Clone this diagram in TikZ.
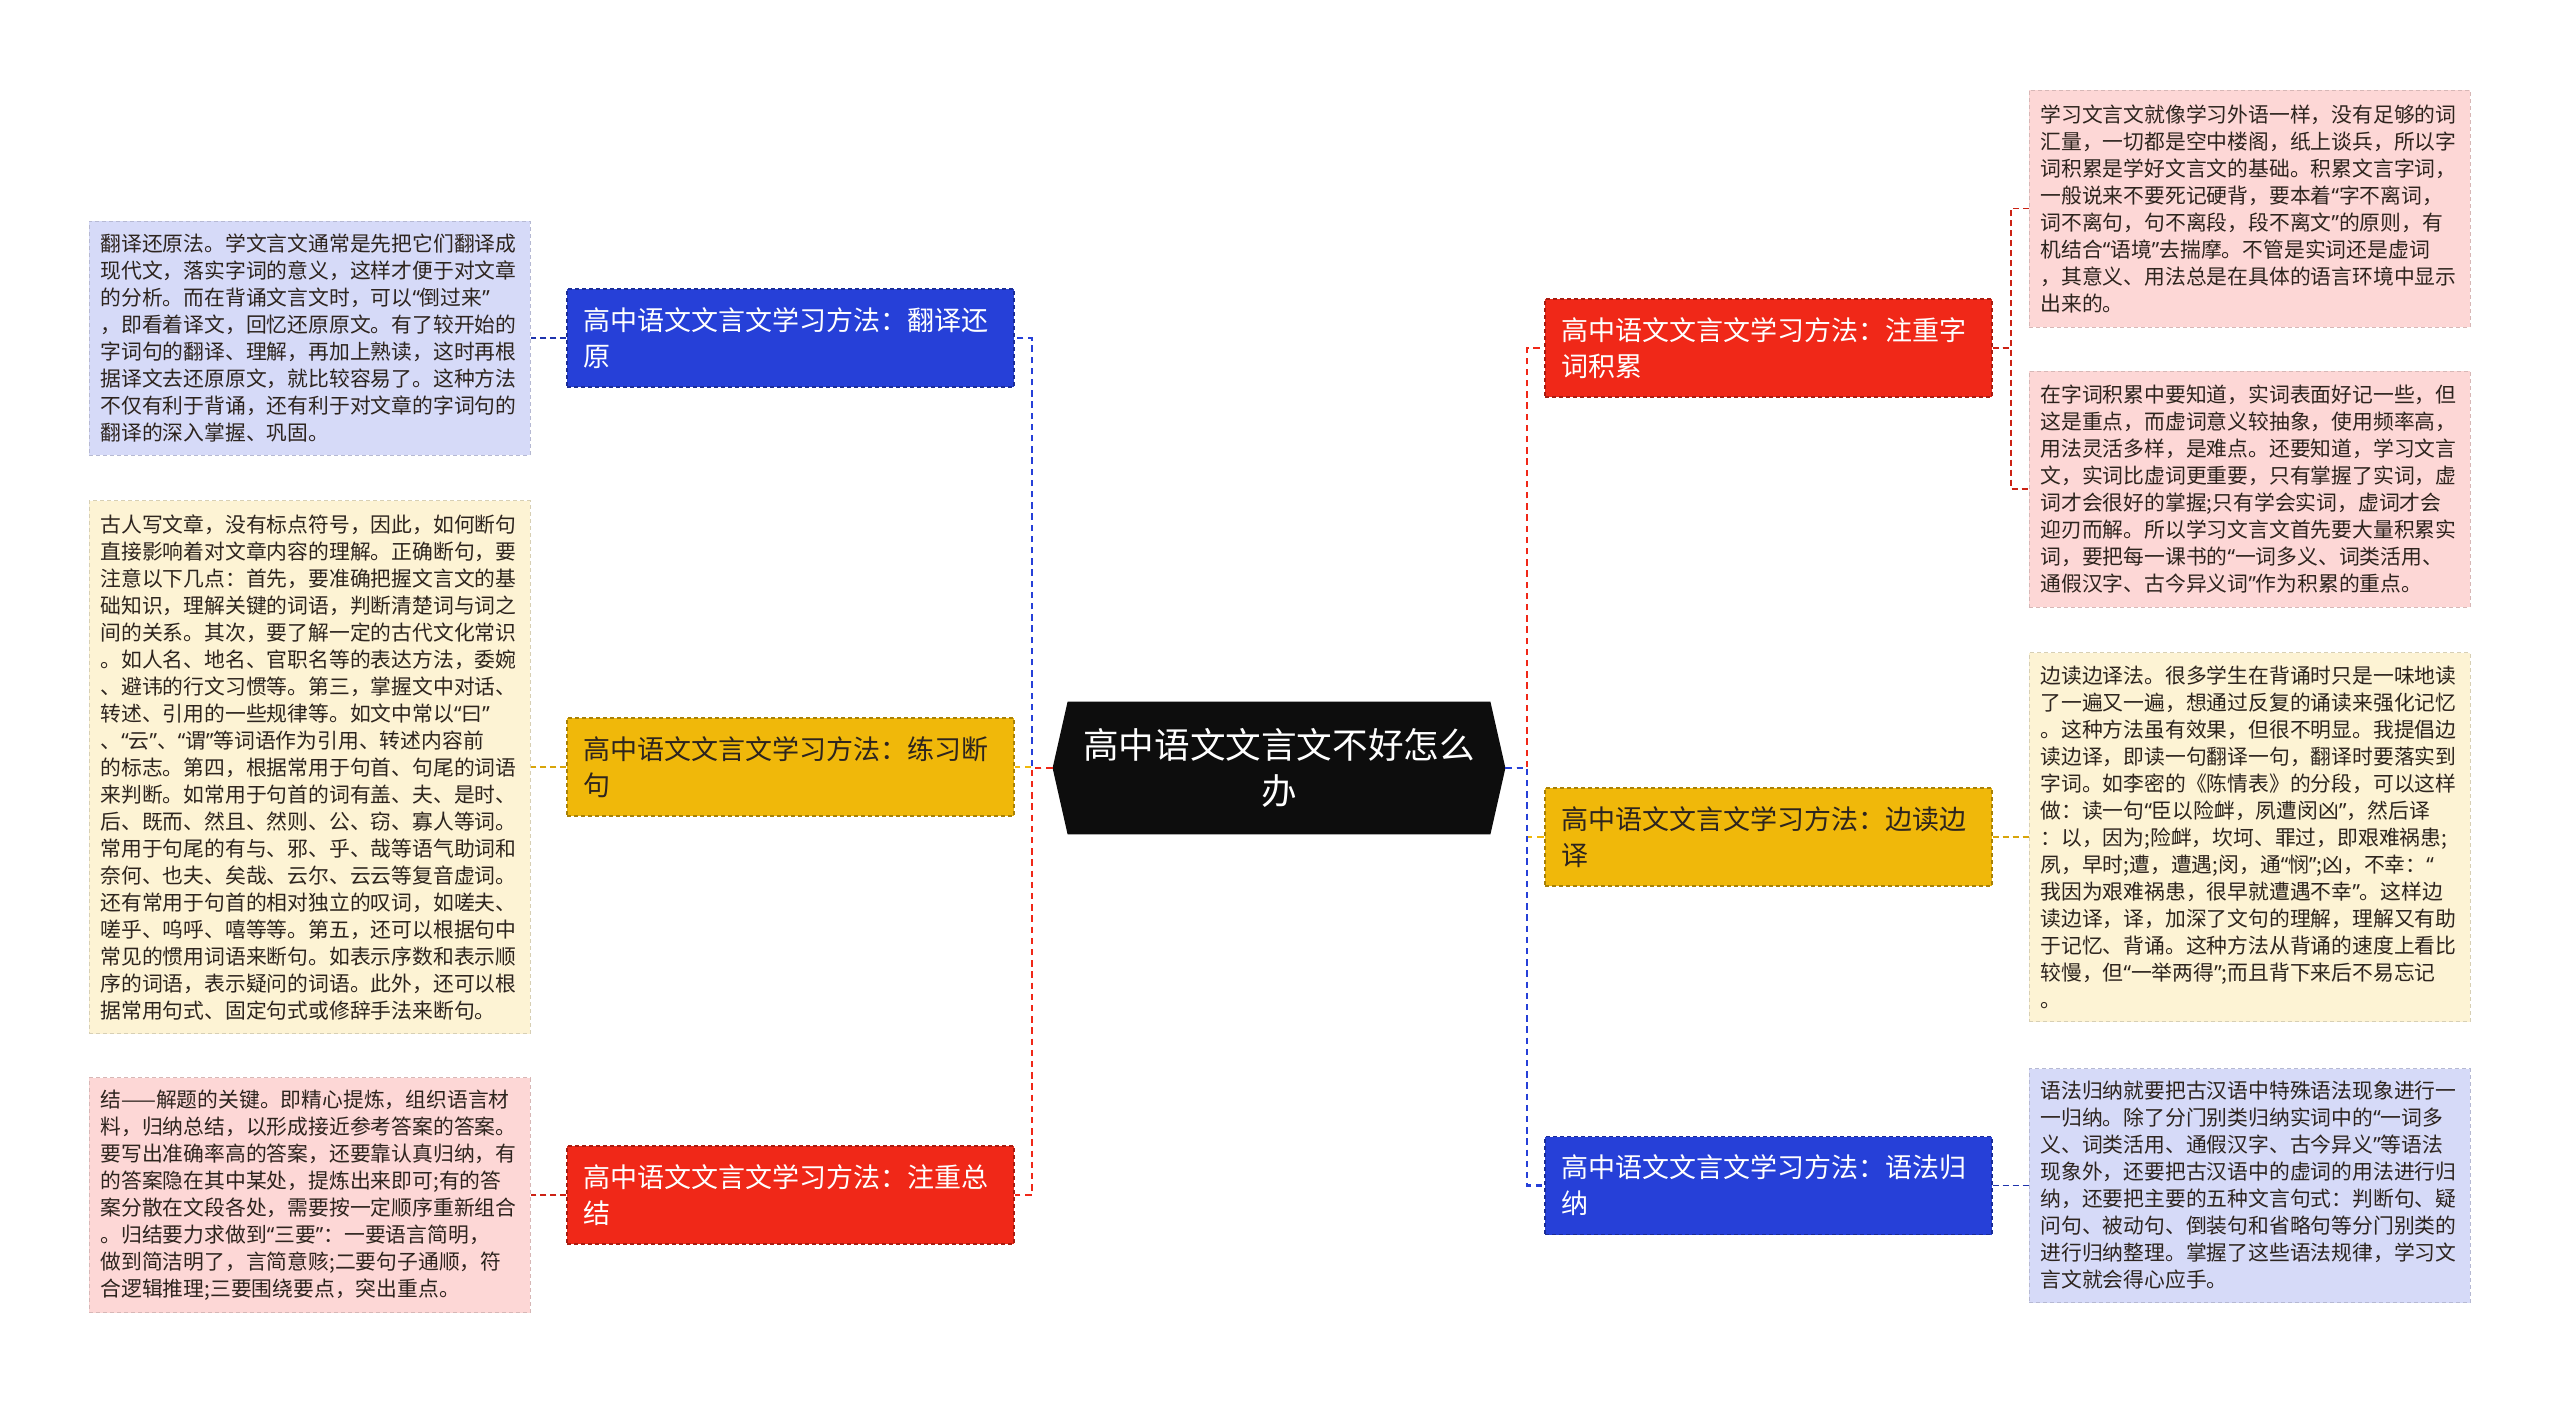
\documentclass[tikz,border=0pt]{standalone}
\usepackage{fontspec}
\setmainfont{Noto Sans CJK SC}
\newfontfamily\quotefont{Noto Sans}
\usetikzlibrary{calc, backgrounds}

\definecolor{topicblue}{RGB}{38,64,216}
\definecolor{topicred}{RGB}{240,40,24}
\definecolor{topicyellow}{RGB}{240,184,10}
\definecolor{noteblue}{RGB}{214,218,248}
\definecolor{noteyellow}{RGB}{253,243,212}
\definecolor{notered}{RGB}{253,215,214}
\definecolor{inkdark}{RGB}{45,36,30}

% narrow quote marks, as in the picture
\newcommand{\oq}{{\quotefont\char"201C}}
\newcommand{\cq}{{\quotefont\char"201D}}

\begin{document}
\begin{tikzpicture}[x=0.5pt, y=-0.5pt,
	topic/.style={rectangle, fill=#1, draw=#1!70!black, dash pattern=on 2pt off 1.5pt,
		line width=0.6pt, text width=207.5pt, minimum height=49pt, inner xsep=8pt,
		inner ysep=0pt, align=left, text=white, font=\fontsize{13.5pt}{18pt}\selectfont},
	note/.style={rectangle, fill=#1, draw=#1!85!black, dash pattern=on 2pt off 1.5pt,
		line width=0.5pt, text width=209pt, inner xsep=5.75pt, inner ysep=0pt,
		align=left, text=inkdark, font=\fontsize{10.4pt}{13.5pt}\selectfont},
	link/.style={line width=1.2pt, dash pattern=on 3.2pt off 2.4pt},
	twig/.style={line width=0.7pt, dash pattern=on 3pt off 2pt}]
	
	% 1. Page and the central hexagon
	\useasboundingbox (0,0) rectangle (2560,1404);
	
	\node[rectangle, minimum width=211pt, minimum height=66pt, inner sep=0pt,
	text=white, align=center, font=\fontsize{17.8pt}{23pt}\selectfont]
	(root) at (1279,768) {高中语文文言文不好怎么\\办};
	\coordinate (rootL) at ($(root.west)+(-15,0)$);
	\coordinate (rootR) at ($(root.east)+(15,0)$);
	\begin{scope}[on background layer]
		\fill[white] (0,0) rectangle (2560,1404);
		\fill[black!95] (root.north west) -- (root.north east) -- (rootR)
		-- (root.south east) -- (root.south west) -- (rootL) -- cycle;
	\end{scope}
	
	% 2. Branch topics
	\node[topic=topicblue] (fanyi) at (790.5,338) {高中语文文言文学习方法：翻译还\\原};
	\node[topic=topicyellow, text=inkdark] (duanju) at (790.5,767) {高中语文文言文学习方法：练习断\\句};
	\node[topic=topicred] (zongjie) at (790.5,1195) {高中语文文言文学习方法：注重总\\结};
	\node[topic=topicred] (jilei) at (1768.5,348) {高中语文文言文学习方法：注重字\\词积累};
	\node[topic=topicyellow, text=inkdark] (bianyi) at (1768.5,837) {高中语文文言文学习方法：边读边\\译};
	\node[topic=topicblue] (guina) at (1768.5,1185.5) {高中语文文言文学习方法：语法归\\纳};
	
	% 3. Notes on the left
	\node[note=noteblue, minimum height=117pt] (fanyiNote) at (309.5,338) {%
		翻译还原法。学文言文通常是先把它们翻译成\\
		现代文，落实字词的意义，这样才便于对文章\\
		的分析。而在背诵文言文时，可以\oq{}倒过来\cq{}\\
		，即看着译文，回忆还原原文。有了较开始的\\
		字词句的翻译、理解，再加上熟读，这时再根\\
		据译文去还原原文，就比较容易了。这种方法\\
		不仅有利于背诵，还有利于对文章的字词句的\\
		翻译的深入掌握、巩固。};
	\node[note=noteyellow, minimum height=266.5pt] (duanjuNote) at (309.5,767) {%
		古人写文章，没有标点符号，因此，如何断句\\
		直接影响着对文章内容的理解。正确断句，要\\
		注意以下几点：首先，要准确把握文言文的基\\
		础知识，理解关键的词语，判断清楚词与词之\\
		间的关系。其次，要了解一定的古代文化常识\\
		。如人名、地名、官职名等的表达方法，委婉\\
		、避讳的行文习惯等。第三，掌握文中对话、\\
		转述、引用的一些规律等。如文中常以\oq{}曰\cq{}\\
		、\oq{}云\cq{}、\oq{}谓\cq{}等词语作为引用、转述内容前\\
		的标志。第四，根据常用于句首、句尾的词语\\
		来判断。如常用于句首的词有盖、夫、是时、\\
		后、既而、然且、然则、公、窃、寡人等词。\\
		常用于句尾的有与、邪、乎、哉等语气助词和\\
		奈何、也夫、矣哉、云尔、云云等复音虚词。\\
		还有常用于句首的相对独立的叹词，如嗟夫、\\
		嗟乎、呜呼、嘻等等。第五，还可以根据句中\\
		常见的惯用词语来断句。如表示序数和表示顺\\
		序的词语，表示疑问的词语。此外，还可以根\\
		据常用句式、固定句式或修辞手法来断句。};
	\node[note=notered, minimum height=117.5pt] (zongjieNote) at (309.5,1195) {%
		结——解题的关键。即精心提炼，组织语言材\\
		料，归纳总结，以形成接近参考答案的答案。\\
		要写出准确率高的答案，还要靠认真归纳，有\\
		的答案隐在其中某处，提炼出来即可;有的答\\
		案分散在文段各处，需要按一定顺序重新组合\\
		。归结要力求做到\oq{}三要\cq{}：一要语言简明，\\
		做到简洁明了，言简意赅;二要句子通顺，符\\
		合逻辑推理;三要围绕要点，突出重点。};
	
	% 4. Notes on the right
	\node[note=notered, minimum height=118.5pt] (jileiNoteA) at (2249.5,208.5) {%
		学习文言文就像学习外语一样，没有足够的词\\
		汇量，一切都是空中楼阁，纸上谈兵，所以字\\
		词积累是学好文言文的基础。积累文言字词，\\
		一般说来不要死记硬背，要本着\oq{}字不离词，\\
		词不离句，句不离段，段不离文\cq{}的原则，有\\
		机结合\oq{}语境\cq{}去揣摩。不管是实词还是虚词\\
		，其意义、用法总是在具体的语言环境中显示\\
		出来的。};
	\node[note=notered, minimum height=118pt] (jileiNoteB) at (2249.5,489) {%
		在字词积累中要知道，实词表面好记一些，但\\
		这是重点，而虚词意义较抽象，使用频率高，\\
		用法灵活多样，是难点。还要知道，学习文言\\
		文，实词比虚词更重要，只有掌握了实词，虚\\
		词才会很好的掌握;只有学会实词，虚词才会\\
		迎刃而解。所以学习文言文首先要大量积累实\\
		词，要把每一课书的\oq{}一词多义、词类活用、\\
		通假汉字、古今异义词\cq{}作为积累的重点。};
	\node[note=noteyellow, minimum height=184.5pt] (bianyiNote) at (2249.5,837) {%
		边读边译法。很多学生在背诵时只是一味地读\\
		了一遍又一遍，想通过反复的诵读来强化记忆\\
		。这种方法虽有效果，但很不明显。我提倡边\\
		读边译，即读一句翻译一句，翻译时要落实到\\
		字词。如李密的《陈情表》的分段，可以这样\\
		做：读一句\oq{}臣以险衅，夙遭闵凶\cq{}，然后译\\
		：以，因为;险衅，坎坷、罪过，即艰难祸患;\\
		夙，早时;遭，遭遇;闵，通\oq{}悯\cq{};凶，不幸：\oq{}\\
		我因为艰难祸患，很早就遭遇不幸\cq{}。这样边\\
		读边译，译，加深了文句的理解，理解又有助\\
		于记忆、背诵。这种方法从背诵的速度上看比\\
		较慢，但\oq{}一举两得\cq{};而且背下来后不易忘记\\
		。};
	\node[note=noteblue, minimum height=117pt] (guinaNote) at (2249.5,1185.5) {%
		语法归纳就要把古汉语中特殊语法现象进行一\\
		一归纳。除了分门别类归纳实词中的\oq{}一词多\\
		义、词类活用、通假汉字、古今异义\cq{}等语法\\
		现象外，还要把古汉语中的虚词的用法进行归\\
		纳，还要把主要的五种文言句式：判断句、疑\\
		问句、被动句、倒装句和省略句等分门别类的\\
		进行归纳整理。掌握了这些语法规律，学习文\\
		言文就会得心应手。};
	
	% 5. Trunk links (the last one drawn shows on the stub)
	\coordinate (hubL) at (1032,768);
	\coordinate (hubR) at (1527,768);
	\draw[link, topicyellow] (rootL) -- (hubL) |- (duanju.east);
	\draw[link, topicblue] (rootL) -- (hubL) |- (fanyi.east);
	\draw[link, topicred] (rootL) -- (hubL) |- (zongjie.east);
	\draw[link, topicyellow] (rootR) -- (hubR) |- (bianyi.west);
	\draw[link, topicred] (rootR) -- (hubR) |- (jilei.west);
	\draw[link, topicblue] (rootR) -- (hubR) |- (guina.west);
	
	% 6. Twigs from topics to their notes
	\coordinate (hubJ) at (2011,348);
	\draw[twig, topicblue!80!black] (fanyi.west) -- (fanyiNote.east);
	\draw[twig, topicyellow!90!black] (duanju.west) -- (duanjuNote.east);
	\draw[twig, topicred!85!black] (zongjie.west) -- (zongjieNote.east);
	\draw[twig, topicred!85!black] (jilei.east) -- (hubJ) |- (jileiNoteA.west);
	\draw[twig, topicred!85!black] (jilei.east) -- (hubJ) |- (jileiNoteB.west);
	\draw[twig, topicyellow!90!black] (bianyi.east) -- (bianyiNote.west);
	\draw[twig, topicblue!80!black] (guina.east) -- (guinaNote.west);
	
\end{tikzpicture}
\end{document}
